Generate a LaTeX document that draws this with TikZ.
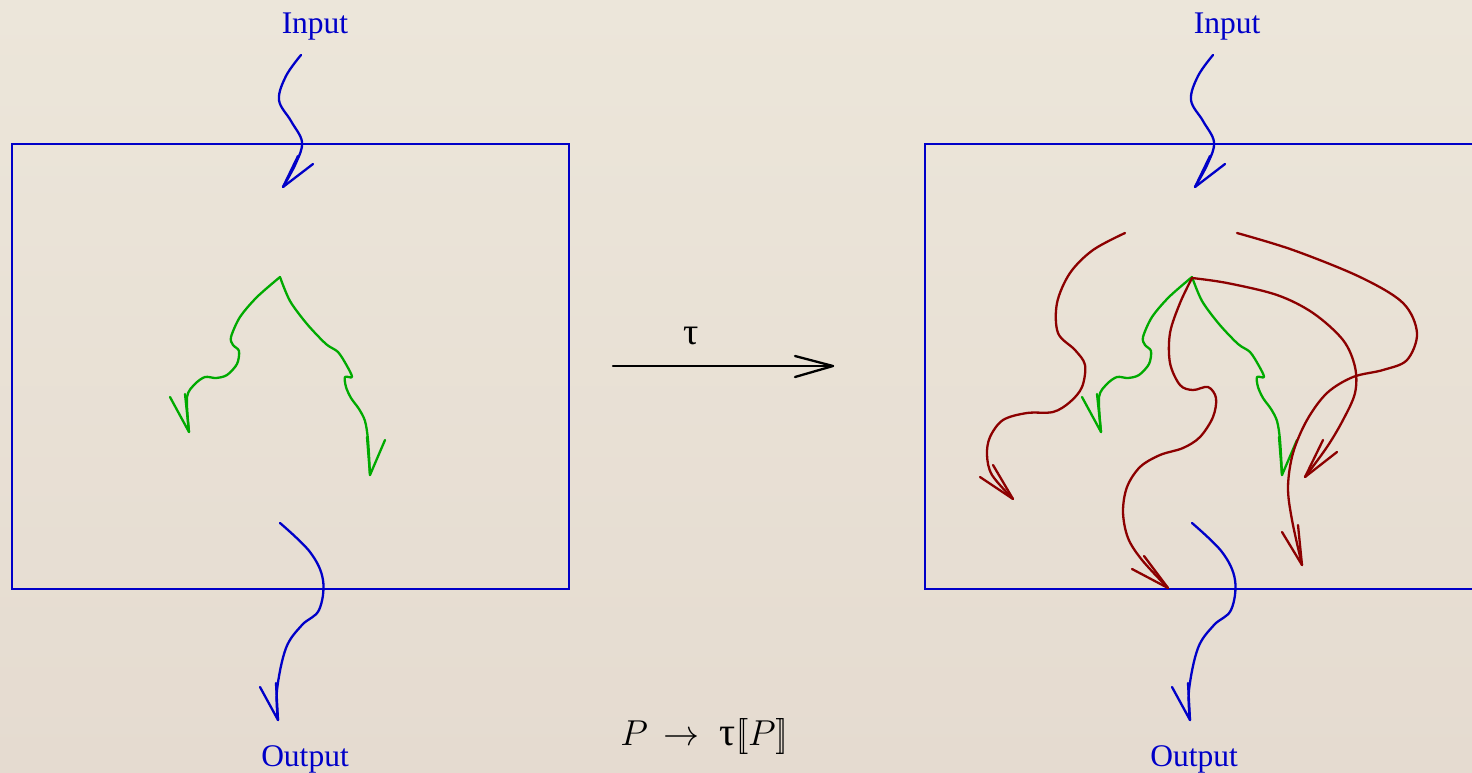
\documentclass[tikz,border=0pt]{standalone}
\usepackage{fix-cm}
\usepackage{fontspec}
\setmainfont{Liberation Serif}
\definecolor{bgtop}{RGB}{236,230,218}
\definecolor{bgbot}{RGB}{229,219,208}
\definecolor{cblue}{RGB}{0,0,200}
\definecolor{cgreen}{RGB}{0,170,0}
\definecolor{cred}{RGB}{140,0,0}
\tikzset{
  curve/.style={line width=2.3pt, line cap=round, line join=round},
  boxline/.style={line width=2.1pt, draw=cblue},
  lbl/.style={font=\fontsize{31.5}{38}\selectfont, inner sep=0pt},
  mathlbl/.style={font=\fontsize{36}{40}\selectfont, inner sep=0pt},
}
\begin{document}
\begin{tikzpicture}[x=1pt,y=-1pt]
\useasboundingbox (0,0) rectangle (1472,772);
\clip (0,0) rectangle (1472,772);
\shade[top color=bgtop, bottom color=bgbot] (0,0) rectangle (1472,772);

% boxes
\draw[boxline] (12,144) rectangle (569,589);
\draw[boxline] (925,144) rectangle (1482,589);

% labels
\node[lbl, text=cblue, anchor=base] (inL) at (315,33) {Input};
\node[lbl, text=cblue, anchor=base] (outL) at (305,766) {Output};
\node[lbl, text=cblue, anchor=base] (inR) at (1227,33) {Input};
\node[lbl, text=cblue, anchor=base] (outR) at (1194,766) {Output};
\node[lbl, anchor=base] (tau) at (691,344) {$\mbox{\fontsize{38}{40}\selectfont τ}$};
\node[mathlbl, anchor=base] (form) at (704,745) {$P\,\to\;\mbox{\fontsize{40}{44}\selectfont τ}[\![P]\!]$};

% tau arrow
\coordinate (ta) at (613,366);
\coordinate (tb) at (833,366);
\draw[curve] (ta) -- (tb);
\draw[curve] (795,356) -- (tb) -- (795,377);

% ---------- left diagram ----------
\begin{scope}
% input
\draw[curve, cblue] plot[smooth, tension=0.6] coordinates {(301,55) (286,76) (279,100) (291,121) (302,142) (296,163) (283,187)};
\draw[curve, cblue] (313,164) -- (283,187) -- (298,156);
% output
\draw[curve, cblue] plot[smooth, tension=0.6] coordinates {(280,523) (310,552) (323,580) (319,610) (302,625) (286,648) (277,690) (278,720)};
\draw[curve, cblue] (260,687) -- (278,720) -- (276,683);
% green left
\draw[curve, cgreen] plot[smooth, tension=0.5] coordinates {(280,277) (257,297) (240,317) (231,337) (233,345) (239,351) (237,364) (227,375) (216,378) (205,377) (195,384) (187,397) (189,432)};
\draw[curve, cgreen] (170,397) -- (189,432) -- (185,394);
% green right
\draw[curve, cgreen] plot[smooth, tension=0.5] coordinates {(280,277) (290,301) (307,324) (326,344) (338,352) (347,366) (352,377) (345,377) (346,387) (351,398) (359,409) (365,421) (368,440) (370,475)};
\draw[curve, cgreen] (385,440) -- (370,475) -- (367,437);
\end{scope}

% ---------- right diagram ----------
\begin{scope}[xshift=912pt]
\draw[curve, cblue] plot[smooth, tension=0.6] coordinates {(301,55) (286,76) (279,100) (291,121) (302,142) (296,163) (283,187)};
\draw[curve, cblue] (313,164) -- (283,187) -- (298,156);
\draw[curve, cblue] plot[smooth, tension=0.6] coordinates {(280,523) (310,552) (323,580) (319,610) (302,625) (286,648) (277,690) (278,720)};
\draw[curve, cblue] (260,687) -- (278,720) -- (276,683);
\draw[curve, cgreen] plot[smooth, tension=0.5] coordinates {(280,277) (257,297) (240,317) (231,337) (233,345) (239,351) (237,364) (227,375) (216,378) (205,377) (195,384) (187,397) (189,432)};
\draw[curve, cgreen] (170,397) -- (189,432) -- (185,394);
\draw[curve, cgreen] plot[smooth, tension=0.5] coordinates {(280,277) (290,301) (307,324) (326,344) (338,352) (347,366) (352,377) (345,377) (346,387) (351,398) (359,409) (365,421) (368,440) (370,475)};
\draw[curve, cgreen] (385,440) -- (370,475) -- (367,437);
\end{scope}

% red curves
\draw[curve, cred] plot[smooth, tension=0.55] coordinates {(1125,233) (1093,250) (1070,273) (1057,303) (1058,333) (1075,350) (1085,365) (1082,387) (1070,402) (1053,412) (1027,413) (1003,420) (990,437) (987,455) (992,475) (1013,499)};
\draw[curve, cred] (980,477) -- (1013,499) -- (993,465);

\draw[curve, cred] plot[smooth, tension=0.55] coordinates {(1192,278) (1180,303) (1170,333) (1170,363) (1180,385) (1193,390) (1208,387) (1216,398) (1213,417) (1200,437) (1183,448) (1160,455) (1140,467) (1127,487) (1123,512) (1128,538) (1142,560) (1168,588)};
\draw[curve, cred] (1132,569) -- (1168,588) -- (1144,556);

\draw[curve, cred] plot[smooth, tension=0.55] coordinates {(1192,278) (1227,283) (1277,295) (1313,313) (1343,340) (1355,367) (1355,393) (1343,420) (1327,447) (1305,477)};
\draw[curve, cred] (1337,452) -- (1305,477) -- (1323,440);

\draw[curve, cred] plot[smooth, tension=0.55] coordinates {(1237,233) (1293,250) (1360,277) (1403,303) (1417,333) (1407,360) (1383,370) (1353,377) (1327,393) (1307,420) (1293,453) (1288,487) (1292,520) (1302,565)};
\draw[curve, cred] (1282,532) -- (1302,565) -- (1298,525);
\end{tikzpicture}
\end{document}
